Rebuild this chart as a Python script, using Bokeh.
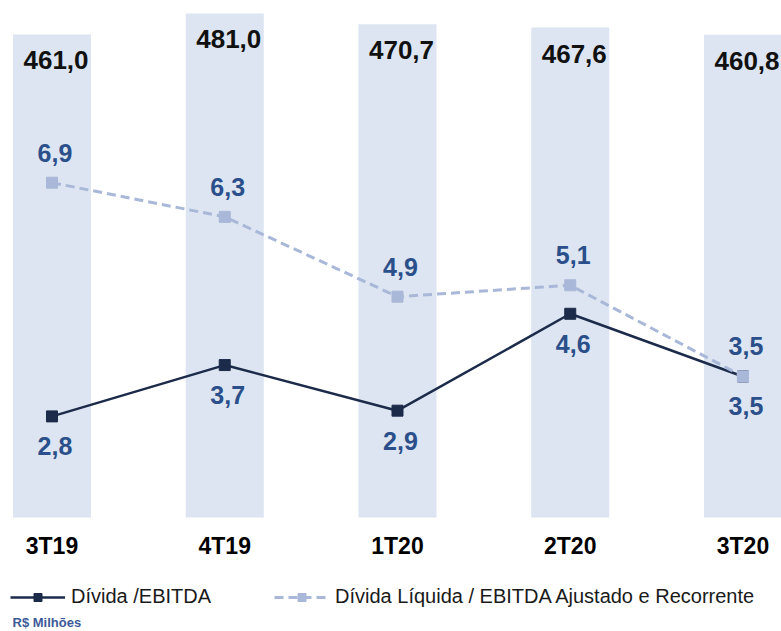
from bokeh.plotting import figure
from bokeh.models import (Range1d, FixedTicker, Legend, LegendItem, Label,
                          ColumnDataSource)
from bokeh.core.properties import value
from bokeh.embed import file_html
from bokeh.resources import INLINE

# ---- data ----
quarters = ["3T19", "4T19", "1T20", "2T20", "3T20"]
net_debt = [461.0, 481.0, 470.7, 467.6, 460.8]          # R$ Milhões (bars)
debt_ebitda = [2.8, 3.7, 2.9, 4.6, 3.5]                 # Dívida / EBITDA
net_debt_ebitda_adj = [6.9, 6.3, 4.9, 5.1, 3.5]         # Dívida Líquida / EBITDA Ajustado e Recorrente


def fmt(v):
    return f"{v:.1f}".replace(".", ",")


idx = list(range(len(quarters)))
src = ColumnDataSource(dict(
    x=idx,
    debt=net_debt,
    debt_lbl=[fmt(v) for v in net_debt],
    r1=debt_ebitda,
    r1_lbl=[fmt(v) for v in debt_ebitda],
    r2=net_debt_ebitda_adj,
    r2_lbl=[fmt(v) for v in net_debt_ebitda_adj],
))

FONT = "Liberation Sans"
BAR = "#dce5f1"
DARK = "#1c2b4a"
LIGHT = "#a9b8d8"
LBL = "#2b4f8a"

p = figure(width=781, height=631, output_backend="svg", toolbar_location=None,
           x_range=Range1d(-0.2981, 4.2229), y_range=Range1d(-108.8, 493.4),
           y_axis_location=None, x_axis_location="below",
           min_border_left=0, min_border_right=0, min_border_top=0,
           min_border_bottom=0)
p.extra_y_ranges = {"ratio": Range1d(-0.974, 10.096)}
p.outline_line_color = None
p.xgrid.visible = False
p.ygrid.visible = False
p.background_fill_color = "white"
p.border_fill_color = "white"

# bars
p.vbar(x="x", top="debt", bottom=0, width=0.4515, source=src,
       fill_color=BAR, line_color=None)
p.text(x="x", y="debt", text="debt_lbl", source=src, text_align="center",
       text_baseline="middle", y_offset=26, x_offset=4,
       text_font=value(FONT), text_font_style="bold", text_font_size="26px",
       text_color="#111111")

# solid line
l1 = p.line(x="x", y="r1", source=src, y_range_name="ratio",
            line_color=DARK, line_width=2.5)
m1 = p.scatter(x="x", y="r1", source=src, y_range_name="ratio", marker="square",
               size=11, fill_color=DARK, line_color=DARK)
# dashed line
l2 = p.line(x="x", y="r2", source=src, y_range_name="ratio",
            line_color=LIGHT, line_width=3, line_dash="9 5")
m2 = p.scatter(x="x", y="r2", source=src, y_range_name="ratio", marker="square",
               size=11, fill_color=LIGHT, line_color=LIGHT)

p.text(x="x", y="r1", text="r1_lbl", source=src, y_range_name="ratio",
       text_align="center", text_baseline="middle", y_offset=30, x_offset=3,
       text_font=value(FONT), text_font_style="bold", text_font_size="25px",
       text_color=LBL)
p.text(x="x", y="r2", text="r2_lbl", source=src, y_range_name="ratio",
       text_align="center", text_baseline="middle", y_offset=-30, x_offset=3,
       text_font=value(FONT), text_font_style="bold", text_font_size="25px",
       text_color=LBL)

# x axis, pinned at the bar baseline
ax = p.xaxis[0]
ax.fixed_location = 0
ax.ticker = FixedTicker(ticks=idx)
ax.major_label_overrides = {i: q for i, q in zip(idx, quarters)}
ax.axis_line_color = None
ax.major_tick_line_color = None
ax.minor_tick_line_color = None
ax.major_label_standoff = 10
ax.major_label_text_font = FONT
ax.major_label_text_font_style = "bold"
ax.major_label_text_font_size = "23px"
ax.major_label_text_color = "#000000"

legend = Legend(items=[
    LegendItem(label="Dívida /EBITDA", renderers=[l1, m1]),
    LegendItem(label="Dívida Líquida / EBITDA Ajustado e Recorrente", renderers=[l2, m2]),
], orientation="horizontal", location=(10, 23), glyph_width=55,
    glyph_height=20, label_standoff=6, spacing=63, padding=0, margin=0,
    border_line_color=None, background_fill_alpha=0,
    label_text_font=FONT, label_text_font_size="20px", label_text_color="#1a1a1a")
p.add_layout(legend, "center")

p.add_layout(Label(x=12, y=9, x_units="screen", y_units="screen",
                   text="R$ Milhões", text_font=FONT, text_font_size="13px",
                   text_font_style="bold", text_color="#3d5a98",
                   text_baseline="middle"))

open("out.html", "w").write(file_html(p, INLINE))
